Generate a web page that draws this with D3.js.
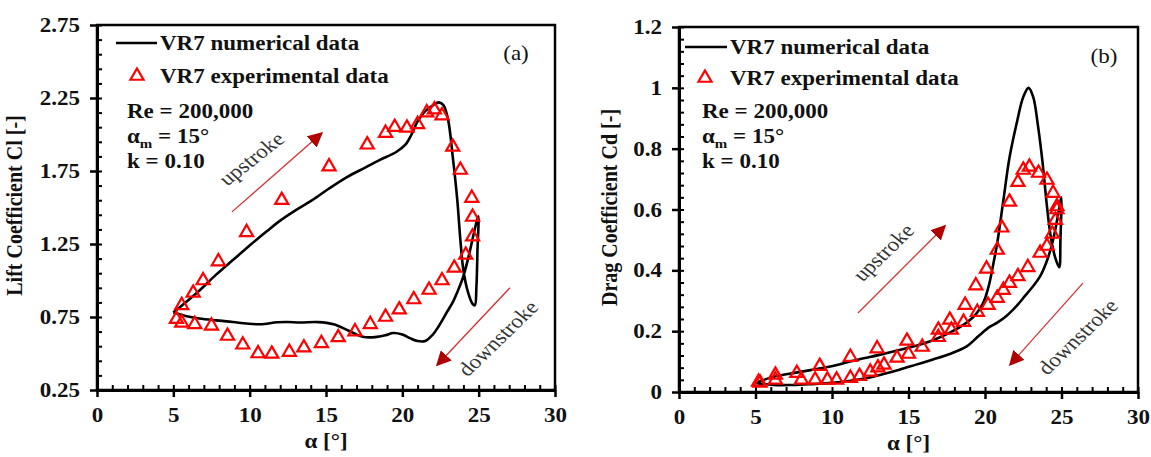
<!DOCTYPE html>
<html>
<head>
<meta charset="utf-8">
<script src="https://cdn.jsdelivr.net/npm/d3@7"></script>
<style>
  body { margin: 0; background: #fff; }
  svg text { font-family: "Liberation Serif", "Times New Roman", Times, serif; }
</style>
</head>
<body>
<script>
// ---- data ----
const alphaTicks = [0, 5, 10, 15, 20, 25, 30];
const clTicks = [0.25, 0.75, 1.25, 1.75, 2.25, 2.75];
const cdTicks = [0, 0.2, 0.4, 0.6, 0.8, 1, 1.2];

// [alpha, Cl] along the cycle (upstroke then downstroke)
const clNumerical = [
  [5.0,0.78],[5.8,0.85],[6.75,0.935],[7.8,1.04],[8.9,1.14],[10.0,1.24],[11.1,1.335],[12.0,1.41],
  [13.0,1.48],[14.1,1.55],[15.2,1.63],[16.4,1.71],[17.5,1.77],[18.5,1.825],[19.6,1.88],[20.2,1.93],
  [20.6,2.0],[21.0,2.09],[21.5,2.16],[22.0,2.2],[22.4,2.22],[22.7,2.2],[23.0,2.1],[23.3,1.85],
  [23.6,1.55],[23.8,1.28],[24.0,1.07],[24.3,0.92],[24.6,0.84],[24.75,0.83],[24.85,0.95],[24.92,1.2],
  [24.97,1.44],[24.7,1.33],[24.4,1.19],[24.0,1.03],[23.6,0.92],[23.3,0.85],[22.9,0.78],[22.4,0.69],
  [22.0,0.63],[21.5,0.585],[21.0,0.585],[20.5,0.605],[20.0,0.63],[19.4,0.64],[18.9,0.625],[18.2,0.612],
  [17.4,0.615],[16.8,0.64],[16.3,0.665],[15.5,0.7],[14.5,0.715],[13.3,0.712],[12.5,0.716],[11.8,0.714],
  [10.7,0.70],[9.8,0.705],[8.9,0.716],[7.8,0.727],[6.7,0.74],[5.8,0.757],[5.0,0.78]
];
const clExperimental = [
  [5.55,0.83],[6.3,0.915],[6.95,1.0],[7.95,1.13],[9.8,1.33],[12.1,1.55],[15.2,1.78],[17.7,1.93],
  [18.9,2.01],[19.5,2.05],[20.3,2.045],[21.0,2.07],[21.6,2.15],[22.1,2.17],[22.6,2.13],[23.3,1.915],
  [23.8,1.757],[24.55,1.565],[24.6,1.435],[24.6,1.30],[24.15,1.175],[23.4,1.086],[22.6,1.0],
  [21.75,0.935],[20.75,0.87],[19.8,0.80],[18.9,0.75],[17.9,0.70],[16.9,0.65],[15.8,0.61],[14.7,0.57],
  [13.55,0.54],[12.6,0.51],[11.45,0.497],[10.55,0.50],[9.55,0.56],[8.55,0.62],[7.5,0.69],[6.4,0.70],
  [5.55,0.71],[5.2,0.735]
];

// [alpha, Cd]
const cdNumerical = [
  [5.0,0.03],[6.2,0.05],[7.45,0.062],[8.6,0.072],[9.7,0.082],[10.8,0.095],[11.8,0.108],[13.1,0.122],
  [14.4,0.138],[15.5,0.152],[16.6,0.17],[17.7,0.195],[18.8,0.228],[19.4,0.255],[19.9,0.295],[20.25,0.35],
  [20.5,0.41],[20.8,0.49],[21.2,0.63],[21.6,0.77],[22.1,0.89],[22.5,0.97],[22.85,1.0],[23.15,0.97],
  [23.45,0.88],[23.75,0.76],[24.05,0.61],[24.3,0.51],[24.6,0.44],[24.85,0.41],[24.93,0.5],[24.98,0.64],
  [24.8,0.59],[24.6,0.535],[24.35,0.48],[24.0,0.425],[23.6,0.38],[23.1,0.345],[22.6,0.315],[22.1,0.285],
  [21.4,0.25],[20.8,0.228],[20.3,0.214],[19.6,0.185],[18.8,0.15],[17.7,0.125],[16.6,0.107],[15.5,0.09],
  [14.4,0.073],[13.3,0.058],[12.3,0.046],[11.1,0.036],[10.0,0.03],[8.7,0.026],[7.4,0.023],[6.2,0.023],
  [5.0,0.03]
];
const cdExperimental = [
  [5.2,0.033],[6.3,0.056],[7.7,0.062],[9.2,0.085],[11.2,0.115],[12.95,0.143],[14.9,0.168],[16.95,0.204],
  [17.7,0.237],[18.7,0.286],[19.4,0.35],[20.1,0.405],[20.8,0.467],[21.1,0.54],[21.6,0.625],[22.15,0.69],
  [22.5,0.73],[22.9,0.74],[23.5,0.72],[24.05,0.697],[24.45,0.654],[24.7,0.61],[24.6,0.565],[24.7,0.6],
  [24.4,0.52],[24.05,0.48],[23.6,0.457],[22.8,0.41],[22.15,0.38],[21.6,0.358],[21.2,0.335],[20.8,0.309],
  [20.2,0.286],[19.5,0.263],[18.6,0.23],[17.8,0.204],[16.95,0.18],[15.9,0.148],[15.0,0.125],[14.25,0.112],
  [13.4,0.089],[13.0,0.08],[12.5,0.066],[11.8,0.052],[11.2,0.046],[10.3,0.04],[9.7,0.04],[8.9,0.04],
  [8.0,0.04],[6.3,0.04],[5.3,0.03]
];

const W = 1151, H = 457;
const SX = 1.15; // the source picture is stretched sideways
const RED = '#ff0000';
const ARROW = '#d83030';

const svg = d3.select('body').append('svg').attr('width', W).attr('height', H);
svg.append('defs').append('marker')
  .attr('id', 'head').attr('viewBox', '0 0 10 10').attr('refX', 9).attr('refY', 5)
  .attr('markerWidth', 15).attr('markerHeight', 15).attr('markerUnits', 'userSpaceOnUse')
  .attr('orient', 'auto')
  .append('path').attr('d', 'M0,0 L10,5 L0,10 Z').attr('fill', '#b00000');

function label(g, x, y, str, size, weight, anchor, rot) {
  return g.append('text')
    .attr('transform', `translate(${x},${y}) scale(${SX},1)` + (rot ? ` rotate(${rot})` : ''))
    .attr('font-size', size)
    .attr('font-weight', weight || 'normal')
    .attr('text-anchor', anchor || 'start')
    .attr('fill', '#111')
    .text(str);
}

function drawPanel(c) {
  const g = svg.append('g').attr('transform', `translate(${c.left},${c.top})`);
  const x = d3.scaleLinear().domain([0, 30]).range([0, c.w]);
  const y = d3.scaleLinear().domain(c.yDomain).range([c.h, 0]);

  // frame
  g.append('rect').attr('width', c.w).attr('height', c.h)
    .attr('fill', 'none').attr('stroke', '#000').attr('stroke-width', 2.5);

  // minor ticks (inside)
  g.append('g').attr('transform', `translate(0,${c.h})`)
    .call(d3.axisBottom(x).tickValues(d3.range(0, 31, 1)).tickSize(-5).tickFormat(''))
    .call(a => a.select('.domain').remove())
    .selectAll('line').attr('stroke-width', 2);
  g.append('g')
    .call(d3.axisLeft(y).tickValues(c.yMinor).tickSize(-5).tickFormat(''))
    .call(a => a.select('.domain').remove())
    .selectAll('line').attr('stroke-width', 2);

  // major axes
  const xa = g.append('g').attr('transform', `translate(0,${c.h})`)
    .call(d3.axisBottom(x).tickValues(alphaTicks).tickSize(7).tickSizeOuter(0));
  const ya = g.append('g')
    .call(d3.axisLeft(y).tickValues(c.yTicks).tickSize(7).tickSizeOuter(0).tickFormat(c.yFormat));
  [xa, ya].forEach(a => {
    a.select('.domain').attr('stroke-width', 3);
    a.selectAll('line').attr('stroke-width', 2.5);
    a.selectAll('text').attr('font-size', 20).attr('font-weight', 'bold').attr('fill', '#111')
      .style('font-family', '"Liberation Serif","Times New Roman",serif');
  });
  xa.selectAll('text').attr('y', 0).attr('dy', 0)
    .attr('transform', `translate(0,32) scale(${SX},1)`);
  ya.selectAll('text').attr('x', 0).attr('dy', '0.33em')
    .attr('transform', `translate(-17,0) scale(${SX},1)`);

  // titles
  label(g, x(15), c.h + 58, 'α [°]', 20, 'bold', 'middle');
  label(g, c.yTitleX, c.h / 2 - 2, c.yTitle, 20, 'bold', 'middle', -90);

  // numerical curve
  g.append('path').datum(c.numerical)
    .attr('fill', 'none').attr('stroke', '#000').attr('stroke-width', 2.6)
    .attr('stroke-linejoin', 'round')
    .attr('d', d3.line().x(d => x(d[0])).y(d => y(d[1])).curve(d3.curveCatmullRom.alpha(0.5)));

  // experimental triangles
  const tri = d3.symbol().type(d3.symbolTriangle).size(74);
  g.selectAll('path.exp').data(c.experimental).enter().append('path')
    .attr('class', 'exp')
    .attr('transform', d => `translate(${x(d[0])},${y(d[1])})`)
    .attr('d', tri)
    .attr('fill', 'none').attr('stroke', RED).attr('stroke-width', 2.2);

  // legend
  const L = c.legend;
  g.append('line').attr('x1', L.x0).attr('x2', L.x1).attr('y1', L.y1).attr('y2', L.y1)
    .attr('stroke', '#000').attr('stroke-width', 2.6);
  label(g, L.tx, L.y1 + 7, 'VR7 numerical data', 20, 'bold');
  g.append('path').attr('transform', `translate(${L.mx},${L.y2})`).attr('d', tri)
    .attr('fill', 'none').attr('stroke', RED).attr('stroke-width', 2.2);
  label(g, L.tx, L.y2 + 7, 'VR7 experimental data', 20, 'bold');

  // case parameters
  label(g, L.px, L.py, 'Re = 200,000', 20, 'bold');
  const am = label(g, L.px, L.py + 25, 'α', 20, 'bold');
  am.append('tspan').attr('font-size', 13).attr('dy', 5).text('m');
  am.append('tspan').attr('dy', -5).text(' = 15°');
  label(g, L.px, L.py + 50, 'k = 0.10', 20, 'bold');
  label(g, c.w - L.tagDx, L.tagY, c.tag, 20, 'normal', 'middle');

  // stroke arrows and words
  c.arrows.forEach(a => {
    g.append('line')
      .attr('x1', x(a.from[0])).attr('y1', y(a.from[1]))
      .attr('x2', x(a.to[0])).attr('y2', y(a.to[1]))
      .attr('stroke', ARROW).attr('stroke-width', 1.3).attr('marker-end', 'url(#head)');
    label(g, x(a.text[0]), y(a.text[1]), a.word, 20, 'normal', 'middle', a.rot)
      .attr('fill', '#333').attr('dy', '0.3em');
  });
}

drawPanel({
  left: 97, top: 25, w: 458, h: 365,
  yDomain: [0.25, 2.75], yTicks: clTicks, yMinor: d3.range(0, 26).map(i => 0.25 + i * 0.1),
  yFormat: d3.format('.2f'), yTitle: 'Lift Coefficient Cl [-]', yTitleX: -75,
  numerical: clNumerical, experimental: clExperimental, tag: '(a)',
  legend: { x0: 19, x1: 60, y1: 18, mx: 40, y2: 51, tx: 63, px: 30, py: 93, tagY: 35, tagDx: 39 },
  arrows: [
    { from: [8.84, 1.47], to: [14.73, 2.01], text: [10.15, 1.83], word: 'upstroke', rot: -42 },
    { from: [27.05, 0.95], to: [22.27, 0.42], text: [26.3, 0.6], word: 'downstroke', rot: -48 }
  ]
});

drawPanel({
  left: 679, top: 27, w: 459, h: 365,
  yDomain: [0, 1.2], yTicks: cdTicks, yMinor: d3.range(0, 31).map(i => i * 0.04),
  yFormat: d3.format(''), yTitle: 'Drag Coefficient Cd [-]', yTitleX: -62,
  numerical: cdNumerical, experimental: cdExperimental, tag: '(b)',
  legend: { x0: 6, x1: 48, y1: 20, mx: 26, y2: 51, tx: 51, px: 23, py: 91, tagY: 36, tagDx: 34 },
  arrows: [
    { from: [11.7, 0.26], to: [17.39, 0.546], text: [13.4, 0.457], word: 'upstroke', rot: -48 },
    { from: [26.4, 0.358], to: [21.63, 0.089], text: [26.1, 0.18], word: 'downstroke', rot: -48 }
  ]
});
</script>
</body>
</html>
